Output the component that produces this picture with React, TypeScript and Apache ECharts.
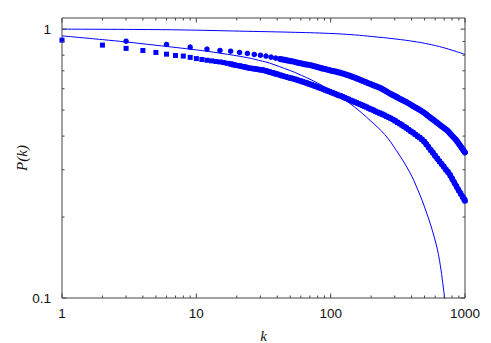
import React, { useEffect, useRef } from "react";
import * as echarts from "echarts";

// ---- data ----
const circleK = [3, 6, 9, 12, 15, 18, 21, 24, 27, 30, 33, 36, 39, 42, 45, 48, 51, 54, 57, 60, 63, 66, 69, 72, 75, 78, 81, 84, 87, 90, 93, 96, 99, 102, 105, 108, 111, 114, 117, 120, 126, 132, 138, 144, 150, 156, 162, 168, 174, 180, 189, 198, 207, 216, 225, 234, 243, 252, 264, 276, 288, 300, 312, 324, 339, 354, 369, 384, 399, 414, 432, 450, 468, 486, 504, 525, 546, 567, 588, 612, 636, 660, 684, 711, 738, 765, 792, 822, 852, 882, 912, 945, 978, 999];
const circleP = [0.902, 0.877, 0.857, 0.843, 0.833, 0.828, 0.819, 0.812, 0.805, 0.8, 0.794, 0.787, 0.78, 0.774, 0.769, 0.764, 0.76, 0.755, 0.75, 0.746, 0.742, 0.739, 0.736, 0.733, 0.729, 0.725, 0.721, 0.717, 0.714, 0.711, 0.708, 0.705, 0.703, 0.7, 0.698, 0.696, 0.693, 0.691, 0.689, 0.686, 0.681, 0.676, 0.671, 0.666, 0.661, 0.656, 0.651, 0.646, 0.641, 0.637, 0.63, 0.625, 0.619, 0.614, 0.609, 0.604, 0.598, 0.592, 0.584, 0.576, 0.57, 0.564, 0.558, 0.552, 0.546, 0.54, 0.534, 0.528, 0.522, 0.516, 0.51, 0.504, 0.498, 0.492, 0.486, 0.478, 0.471, 0.464, 0.458, 0.451, 0.444, 0.438, 0.432, 0.426, 0.42, 0.412, 0.404, 0.396, 0.389, 0.38, 0.371, 0.362, 0.353, 0.348];

const squareK = [1, 2, 3, 4, 5, 6, 7, 8, 9, 10, 11, 12, 13, 14, 15, 16, 17, 18, 19, 20, 21, 22, 23, 24, 25, 26, 27, 28, 29, 30, 31, 32, 33, 34, 35, 36, 37, 38, 39, 40, 42, 44, 46, 48, 50, 52, 54, 56, 58, 60, 62, 64, 66, 68, 70, 72, 74, 76, 78, 80, 83, 86, 89, 92, 95, 98, 101, 104, 107, 110, 114, 118, 122, 126, 130, 135, 140, 145, 150, 155, 160, 166, 172, 178, 185, 192, 199, 207, 215, 223, 232, 241, 250, 260, 270, 280, 291, 302, 314, 326, 339, 352, 366, 380, 395, 410, 426, 443, 460, 478, 496, 515, 535, 556, 577, 599, 622, 646, 670, 695, 721, 748, 776, 805, 834, 864, 895, 927, 960, 985, 1000];
const squareP = [0.91, 0.872, 0.848, 0.833, 0.819, 0.807, 0.798, 0.794, 0.785, 0.777, 0.771, 0.766, 0.762, 0.758, 0.755, 0.751, 0.746, 0.742, 0.737, 0.733, 0.73, 0.726, 0.723, 0.719, 0.716, 0.714, 0.712, 0.71, 0.708, 0.706, 0.705, 0.702, 0.699, 0.696, 0.693, 0.69, 0.688, 0.685, 0.682, 0.68, 0.675, 0.67, 0.666, 0.662, 0.658, 0.655, 0.652, 0.648, 0.644, 0.641, 0.637, 0.634, 0.631, 0.627, 0.624, 0.621, 0.618, 0.615, 0.612, 0.609, 0.605, 0.601, 0.597, 0.593, 0.589, 0.586, 0.582, 0.579, 0.576, 0.572, 0.568, 0.565, 0.561, 0.557, 0.553, 0.549, 0.544, 0.54, 0.536, 0.533, 0.529, 0.525, 0.521, 0.517, 0.513, 0.508, 0.504, 0.5, 0.495, 0.491, 0.487, 0.483, 0.479, 0.474, 0.47, 0.466, 0.461, 0.456, 0.45, 0.445, 0.44, 0.434, 0.429, 0.423, 0.417, 0.412, 0.406, 0.4, 0.395, 0.389, 0.382, 0.373, 0.364, 0.355, 0.347, 0.338, 0.33, 0.322, 0.315, 0.308, 0.3, 0.294, 0.286, 0.277, 0.268, 0.26, 0.252, 0.245, 0.238, 0.233, 0.23];

const fitAK = [1, 5, 10, 21, 50, 98, 150, 206, 300, 434, 540, 646, 800, 1000];
const fitAP = [1.0, 0.996, 0.991, 0.983, 0.974, 0.964, 0.952, 0.938, 0.92, 0.897, 0.879, 0.861, 0.835, 0.805];

const fitBK = [1, 2, 3, 5, 10, 15, 24, 31, 35, 50, 55, 80, 110, 150, 200, 252, 308, 387, 446, 515, 593, 646, 704, 715];
const fitBP = [0.944, 0.914, 0.896, 0.871, 0.837, 0.814, 0.783, 0.76, 0.748, 0.701, 0.688, 0.63, 0.573, 0.514, 0.454, 0.406, 0.354, 0.294, 0.252, 0.209, 0.167, 0.138, 0.101, 0.095];

const xMajorTicks = [1, 10, 100, 1000];
const xDecades = [1, 10, 100];
const yMajorTicks = [0.1, 1];
const yDecades = [0.1];
const minorMultipliers = [2, 3, 4, 5, 6, 7, 8, 9];

const L = Math.log10;

export default function App() {
  const ref = useRef<HTMLDivElement>(null);

  useEffect(() => {
    if (!ref.current) return;
    const chart = echarts.init(ref.current, undefined, { renderer: "svg" });

    const toLog = (ks: number[], ps: number[]) => ks.map((k, i) => [L(k), L(ps[i])]);
    const circles = toLog(circleK, circleP);
    const squares = toLog(squareK, squareP);
    // dense parts of the two samples, where the markers merge into a band
    const circleBand = circles.filter((_, i) => circleK[i] >= 42);
    const squareBand = squares.filter((_, i) => squareK[i] >= 18);

    const ticks: number[][] = [];
    xMajorTicks.forEach((v) => ticks.push([L(v), 1, 1]));
    xDecades.forEach((d) => minorMultipliers.forEach((m) => ticks.push([L(d * m), 1, 0])));
    yMajorTicks.forEach((v) => ticks.push([L(v), 0, 1]));
    yDecades.forEach((d) => minorMultipliers.forEach((m) => ticks.push([L(d * m), 0, 0])));

    const yMin = -1;
    const yMax = L(1.1);
    const axisColor = "#444";
    const blue = "#0000ff";

    const fmt = (v: number) => {
      const r = Math.round(v);
      if (Math.abs(v - r) > 1e-6) return "";
      return String(Math.pow(10, r));
    };

    chart.setOption({
      animation: false,
      backgroundColor: "#fff",
      grid: {
        left: 62,
        right: 26,
        top: 18,
        bottom: 45,
        show: true,
        borderColor: axisColor,
        borderWidth: 1,
        backgroundColor: "transparent",
      },
      xAxis: {
        type: "value",
        min: 0,
        max: 3,
        interval: 1,
        axisLine: { show: false },
        axisTick: { show: false },
        splitLine: { show: false },
        axisLabel: {
          formatter: fmt,
          margin: 8,
          color: "#111",
          fontFamily: "Liberation Sans",
          fontSize: 13.5,
        },
      },
      yAxis: {
        type: "value",
        min: yMin,
        max: yMax,
        interval: 1,
        axisLine: { show: false },
        axisTick: { show: false },
        splitLine: { show: false },
        axisLabel: {
          formatter: fmt,
          margin: 11,
          color: "#111",
          fontFamily: "Liberation Sans",
          fontSize: 13.5,
        },
      },
      graphic: [
        {
          type: "text",
          x: 263.5,
          y: 336,
          style: {
            text: "k",
            font: 'italic 15px "Liberation Serif"',
            fill: "#111",
            align: "center",
            verticalAlign: "middle",
          },
        },
        {
          type: "text",
          x: 22,
          y: 158,
          rotation: Math.PI / 2,
          style: {
            text: "P(k)",
            font: 'italic 15px "Liberation Serif"',
            fill: "#111",
            align: "center",
            verticalAlign: "middle",
          },
        },
      ],
      series: [
        {
          type: "line",
          data: toLog(fitAK, fitAP),
          showSymbol: false,
          smooth: 0.4,
          lineStyle: { color: blue, width: 1 },
          z: 1,
        },
        {
          type: "line",
          data: toLog(fitBK, fitBP),
          showSymbol: false,
          smooth: 0.4,
          lineStyle: { color: blue, width: 1 },
          z: 1,
        },
        {
          type: "line",
          data: circleBand,
          showSymbol: false,
          silent: true,
          lineStyle: { color: blue, width: 6, cap: "round", join: "round" },
          z: 2,
        },
        {
          type: "line",
          data: squareBand,
          showSymbol: false,
          silent: true,
          lineStyle: { color: blue, width: 5.5, cap: "round", join: "round" },
          z: 2,
        },
        {
          type: "scatter",
          data: circles,
          symbol: "circle",
          symbolSize: 5.5,
          itemStyle: { color: blue, opacity: 1 },
          z: 3,
        },
        {
          type: "scatter",
          data: squares,
          symbol: "rect",
          symbolSize: 5,
          itemStyle: { color: blue, opacity: 1 },
          z: 3,
        },
        {
          type: "custom",
          silent: true,
          clip: false,
          z: 5,
          data: ticks,
          renderItem: (params: any, api: any) => {
            const v = api.value(0);
            const isX = api.value(1);
            const major = api.value(2);
            const cs = params.coordSys;
            const len = major ? 4.5 : 2.5;
            const st = { stroke: axisColor, lineWidth: 1 };
            if (isX) {
              const px = api.coord([v, yMin])[0];
              const b = cs.y + cs.height;
              return {
                type: "group",
                children: [
                  { type: "line", shape: { x1: px, y1: b, x2: px, y2: b - len }, style: st },
                  { type: "line", shape: { x1: px, y1: cs.y, x2: px, y2: cs.y + len }, style: st },
                ],
              };
            }
            const py = api.coord([0, v])[1];
            const r = cs.x + cs.width;
            return {
              type: "group",
              children: [
                { type: "line", shape: { x1: cs.x, y1: py, x2: cs.x + len, y2: py }, style: st },
                { type: "line", shape: { x1: r, y1: py, x2: r - len, y2: py }, style: st },
              ],
            };
          },
        },
      ],
    });

    return () => chart.dispose();
  }, []);

  return (
    <div
      ref={ref}
      style={{ position: "fixed", left: 0, top: 0, width: 491, height: 343, background: "#fff" }}
    />
  );
}
